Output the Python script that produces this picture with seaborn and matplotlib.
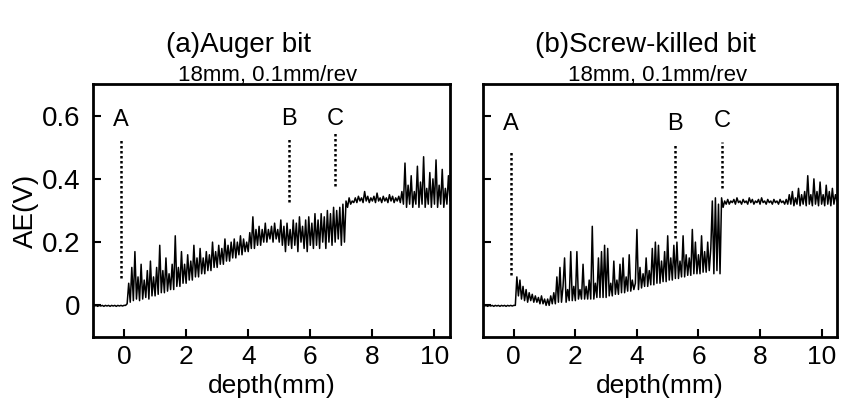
import numpy as np
import pandas as pd
import matplotlib
matplotlib.use("Agg")
import matplotlib.pyplot as plt
import seaborn as sns

# depth grid, 0.05 mm steps from -1.0 to 10.5
depth = np.round(np.arange(-1.0, 10.5001, 0.05), 2)

flat = [0.0, -0.002, 0.0, -0.003, 0.0, -0.002, 0.0, -0.003, 0.0, -0.002,
        0.0, -0.003, 0.0, -0.002, 0.0, -0.003, 0.0, -0.002, 0.0, -0.002]

# (a) Auger bit, AE(V)
ae_auger = flat + [
    0.00, 0.00, 0.005, 0.07, 0.01, 0.12, 0.015, 0.17, 0.02, 0.09,
    0.015, 0.13, 0.02, 0.08, 0.025, 0.11, 0.02, 0.14, 0.03, 0.09,
    0.03, 0.12, 0.035, 0.19, 0.04, 0.11, 0.04, 0.15, 0.045, 0.10,
    0.05, 0.13, 0.05, 0.22, 0.06, 0.12, 0.06, 0.17, 0.07, 0.13,
    0.07, 0.16, 0.08, 0.14, 0.08, 0.19, 0.09, 0.15, 0.09, 0.18,
    0.10, 0.15, 0.10, 0.17, 0.11, 0.16, 0.11, 0.20, 0.12, 0.17,
    0.12, 0.19, 0.13, 0.18, 0.13, 0.21, 0.14, 0.19, 0.14, 0.20,
    0.15, 0.21, 0.15, 0.20, 0.16, 0.22, 0.16, 0.21, 0.17, 0.20,
    0.17, 0.23, 0.18, 0.28, 0.18, 0.24, 0.19, 0.25, 0.19, 0.24,
    0.20, 0.26, 0.20, 0.24, 0.21, 0.25, 0.20, 0.26, 0.21, 0.24,
    0.20, 0.27, 0.19, 0.25, 0.17, 0.26, 0.19, 0.24, 0.18, 0.27,
    0.19, 0.26, 0.17, 0.28, 0.20, 0.25, 0.18, 0.27, 0.17, 0.28,
    0.19, 0.26, 0.18, 0.29, 0.19, 0.27, 0.18, 0.29, 0.20, 0.28,
    0.18, 0.30, 0.20, 0.29, 0.19, 0.31, 0.20, 0.30, 0.21, 0.31,
    0.19, 0.32, 0.20, 0.33, 0.31, 0.34, 0.32, 0.33, 0.325, 0.34,
    0.325, 0.345, 0.33, 0.34, 0.325, 0.36, 0.33, 0.345, 0.325, 0.34,
    0.33, 0.345, 0.325, 0.355, 0.33, 0.34, 0.325, 0.345, 0.33, 0.34,
    0.325, 0.35, 0.33, 0.345, 0.325, 0.34, 0.33, 0.345, 0.325, 0.36,
    0.32, 0.45, 0.31, 0.38, 0.32, 0.41, 0.31, 0.36, 0.32, 0.44,
    0.31, 0.39, 0.32, 0.47, 0.31, 0.37, 0.32, 0.42, 0.31, 0.40,
    0.32, 0.46, 0.31, 0.38, 0.32, 0.43, 0.31, 0.37, 0.32, 0.41,
    0.33,
]

# (b) Screw-killed bit
ae_screw = flat + [
    0.00, 0.00, 0.09, 0.03, 0.08, 0.02, 0.06, 0.015, 0.05, 0.01,
    0.04, 0.015, 0.035, 0.01, 0.03, 0.01, 0.025, 0.005, 0.03, 0.005,
    0.02, 0.00, 0.02, 0.00, 0.03, 0.005, 0.04, 0.005, 0.09, 0.01,
    0.12, 0.01, 0.06, 0.15, 0.01, 0.05, 0.015, 0.17, 0.015, 0.06,
    0.015, 0.17, 0.02, 0.05, 0.02, 0.13, 0.02, 0.06, 0.02, 0.08,
    0.02, 0.25, 0.02, 0.07, 0.025, 0.15, 0.025, 0.17, 0.025, 0.19,
    0.025, 0.18, 0.03, 0.07, 0.03, 0.14, 0.035, 0.08, 0.035, 0.13,
    0.04, 0.15, 0.04, 0.09, 0.045, 0.16, 0.045, 0.08, 0.05, 0.07,
    0.24, 0.05, 0.12, 0.055, 0.10, 0.06, 0.15, 0.06, 0.11, 0.065,
    0.18, 0.065, 0.20, 0.07, 0.19, 0.07, 0.14, 0.075, 0.17, 0.075,
    0.22, 0.08, 0.15, 0.08, 0.19, 0.085, 0.20, 0.085, 0.14, 0.09,
    0.22, 0.09, 0.16, 0.095, 0.15, 0.095, 0.24, 0.10, 0.20, 0.10,
    0.16, 0.10, 0.22, 0.105, 0.17, 0.105, 0.20, 0.11, 0.18, 0.33,
    0.10, 0.34, 0.11, 0.32, 0.10, 0.34, 0.31, 0.33, 0.32, 0.335,
    0.32, 0.33, 0.325, 0.335, 0.32, 0.34, 0.325, 0.33, 0.32, 0.335,
    0.325, 0.33, 0.32, 0.34, 0.325, 0.335, 0.32, 0.33, 0.325, 0.335,
    0.32, 0.34, 0.325, 0.33, 0.32, 0.335, 0.325, 0.33, 0.32, 0.335,
    0.325, 0.33, 0.32, 0.335, 0.325, 0.33, 0.32, 0.335, 0.32, 0.35,
    0.32, 0.36, 0.315, 0.34, 0.32, 0.37, 0.315, 0.35, 0.32, 0.36,
    0.315, 0.41, 0.32, 0.35, 0.315, 0.40, 0.32, 0.36, 0.315, 0.39,
    0.32, 0.35, 0.315, 0.38, 0.32, 0.36, 0.315, 0.37, 0.32, 0.35,
    0.33,
]

# marker lines A, B, C: (label, x, y_top, y_bottom, label_y)
marks_auger = [("A", -0.1, 0.53, 0.086, 0.585), ("B", 5.3, 0.53, 0.326, 0.59), ("C", 6.81, 0.55, 0.379, 0.59)]
marks_screw = [("A", -0.1, 0.487, 0.095, 0.575), ("B", 5.24, 0.513, 0.213, 0.575), ("C", 6.78, 0.518, 0.37, 0.584)]

titles = ["(a)Auger bit", "(b)Screw\u2010killed bit"]
subtitle = "18mm, 0.1mm/rev"

sns.set_theme(style="white")
plt.rcParams["font.family"] = ["Liberation Sans", "DejaVu Sans"]
plt.rcParams["text.color"] = "black"
plt.rcParams["axes.labelcolor"] = "black"
plt.rcParams["xtick.color"] = "black"
plt.rcParams["ytick.color"] = "black"

fig = plt.figure(figsize=(8.42, 4.08), dpi=100)
ax1 = fig.add_axes([93 / 842, 1 - 337 / 408, 357 / 842, 253 / 408])
ax2 = fig.add_axes([483 / 842, 1 - 337 / 408, 354 / 842, 253 / 408])

panels = [(ax1, ae_auger, marks_auger), (ax2, ae_screw, marks_screw)]
for ax, ae, marks in panels:
    df = pd.DataFrame({"depth": depth, "ae": ae})
    sns.lineplot(data=df, x="depth", y="ae", ax=ax, color="black", lw=1.1, estimator=None, sort=False)
    for lab, x, top, bot, ly in marks:
        ax.plot([x, x], [bot, top], color="black", ls=(0, (1, 1)), lw=1.8)
        ax.text(x, ly, lab, ha="center", va="center", fontsize=17)
    ax.set_xlim(-1, 10.5)
    ax.set_ylim(-0.1, 0.7)
    ax.set_xticks([0, 2, 4, 6, 8, 10])
    ax.set_yticks([0, 0.2, 0.4, 0.6])
    ax.tick_params(direction="in", length=6, width=1.5, top=False, right=False, bottom=True, left=True)
    ax.tick_params(axis="x", labelsize=19, pad=6)
    ax.tick_params(axis="y", pad=9)
    for s in ax.spines.values():
        s.set_linewidth(2)
        s.set_color("black")
    ax.set_xlabel("depth(mm)", fontsize=19, labelpad=3)
    ax.set_ylabel("")

ax1.set_yticklabels(["0", "0.2", "0.4", "0.6"], fontsize=20)
ax2.set_yticklabels([])
ax1.set_ylabel("AE(V)", fontsize=20, labelpad=2)

fig.text(238 / 842, 1 - 45 / 408, titles[0], ha="center", va="center", fontsize=20)
fig.text(268 / 842, 1 - 76 / 408, subtitle, ha="center", va="center", fontsize=16)
fig.text(645 / 842, 1 - 45 / 408, titles[1], ha="center", va="center", fontsize=20)
fig.text(658 / 842, 1 - 76 / 408, subtitle, ha="center", va="center", fontsize=16)

fig.savefig("out.png", dpi=100)
